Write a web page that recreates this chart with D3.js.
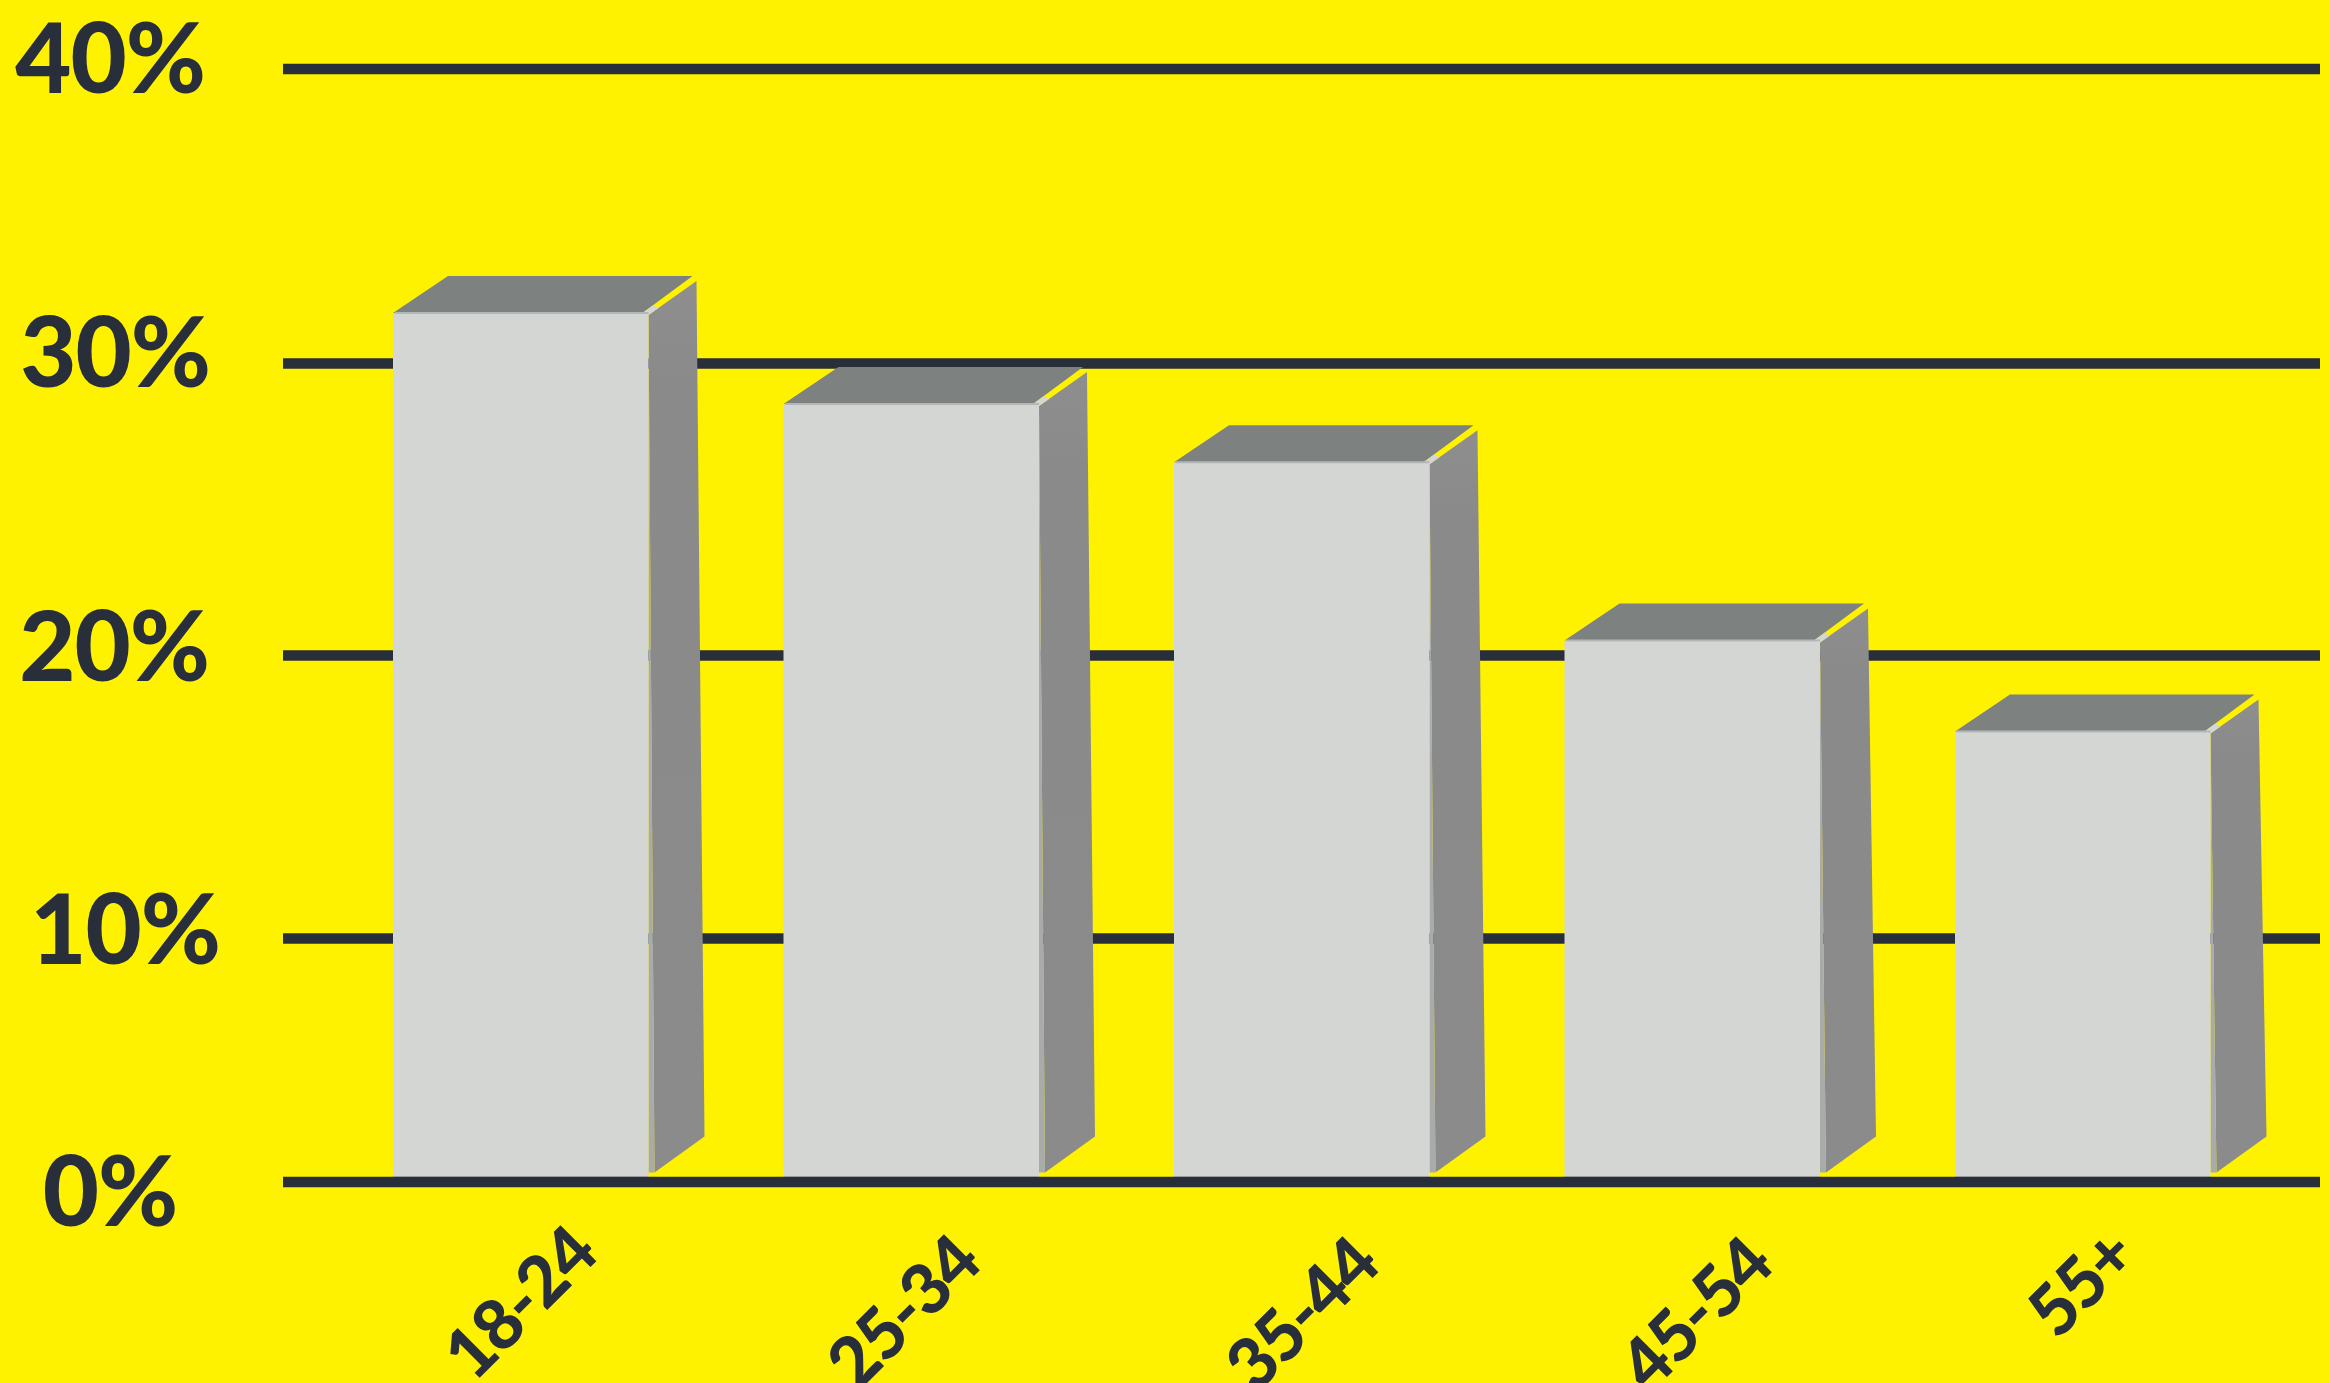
<!DOCTYPE html>
<html>
<head>
<meta charset="utf-8">
<script src="https://cdn.jsdelivr.net/npm/d3@7"></script>
<style>
  html, body { margin: 0; padding: 0; background: #fff200; overflow: hidden; }
  svg { display: block; }
  text { font-family: Lato, "Noto Sans", sans-serif; font-weight: 900; fill: #282e3a; }
</style>
</head>
<body>
<svg id="chart" width="2330" height="1383"></svg>
<script>
// Share of respondents per age group, in percent
const ageGroups = ["18-24", "25-34", "35-44", "45-54", "55+"];
const shares = [31.7, 28.6, 26.6, 20.5, 17.3];
const percentTicks = [0, 10, 20, 30, 40];

// The hand-drawn axis has slightly uneven steps, so the scale is piecewise
const tickPixels = [1181.5, 938, 655, 363, 68.5];

const yLabelCentre = [110, 125, 114, 115, 110];
const yLabelShift = [44, 25, 25, 23, 24];
const xLabelShift = [[-1, 3], [-8, 12], [0, 14], [3, 14], [-2, -17]];

const ink = "#282e3a";
const depth = { x: 55, y: -37 };

const svg = d3.select("#chart");
const defs = svg.append("defs");
const sideFill = defs.append("linearGradient")
  .attr("id", "side-fill").attr("x1", 0).attr("y1", 0).attr("x2", 0).attr("y2", 1);
sideFill.append("stop").attr("offset", 0).attr("stop-color", "#8e8e8e");
sideFill.append("stop").attr("offset", 0.12).attr("stop-color", "#8a8a8a");
sideFill.append("stop").attr("offset", 1).attr("stop-color", "#8b8b8b");

const x = d3.scaleBand().domain(ageGroups).range([393, 2210.5]).paddingInner(0.3457).paddingOuter(0);
const y = d3.scaleLinear().domain(percentTicks).range(tickPixels);

// Gridlines and percent labels
const yAxis = svg.append("g")
  .attr("transform", "translate(283,0)")
  .call(d3.axisRight(y).tickValues(percentTicks).tickSize(2037).tickFormat(d => d + "%"));
yAxis.select(".domain").remove();
yAxis.selectAll(".tick line").attr("stroke", ink).attr("stroke-width", 10.5);
yAxis.selectAll(".tick text")
  .attr("x", (d, i) => yLabelCentre[i] - 283)
  .attr("y", (d, i) => yLabelShift[i])
  .attr("dy", 0)
  .attr("text-anchor", "middle")
  .style("font-size", "97px")
  .style("letter-spacing", "-1px");

// Bars stand on the upper edge of the zero line
const base = y(0) - 5;
const bars = svg.append("g").selectAll("g").data(ageGroups).join("g");
const poly = pts => pts.map(p => p.join(",")).join(" ");

// Top face
bars.append("polygon")
  .attr("fill", "#7d8180")
  .attr("points", (d, i) => {
    const l = x(d), r = l + x.bandwidth(), t = y(shares[i]);
    return poly([[l, t], [l + depth.x, t + depth.y], [r + depth.x - 11, t + depth.y], [r - 6, t]]);
  });

// Right face, leaning slightly outwards towards the floor
bars.append("polygon")
  .attr("fill", "url(#side-fill)")
  .attr("points", (d, i) => {
    const r = x(d) + x.bandwidth(), t = y(shares[i]);
    return poly([[r, t + 2], [r + 48, t - 32], [r + 56, base - 40], [r + 6, base - 4]]);
  });

// Narrow lighter sliver where the front meets the right face
bars.append("polygon")
  .attr("fill", "#a9abab")
  .attr("points", (d, i) => {
    const r = x(d) + x.bandwidth(), t = y(shares[i]);
    return poly([[r, t + 2], [r + 6, base - 4], [r, base - 4]]);
  });

// Pale bevel at the top right corner
bars.append("polygon")
  .attr("fill", "#d4d6d4")
  .attr("points", (d, i) => {
    const r = x(d) + x.bandwidth(), t = y(shares[i]);
    return poly([[r - 6, t], [r + 5, t - 8], [r + 10, t - 5], [r, t + 2]]);
  });

// Front face
bars.append("rect")
  .attr("x", d => x(d))
  .attr("y", (d, i) => y(shares[i]))
  .attr("width", x.bandwidth())
  .attr("height", (d, i) => base - y(shares[i]))
  .attr("rx", 2)
  .attr("fill", "#d4d6d4");

// Thin grey edges along the top and foot of the front face
bars.append("line")
  .attr("x1", d => x(d) + 2)
  .attr("x2", d => x(d) + x.bandwidth())
  .attr("y1", (d, i) => y(shares[i]))
  .attr("y2", (d, i) => y(shares[i]))
  .attr("stroke", "#b4b7b7").attr("stroke-width", 2);
bars.append("line")
  .attr("x1", d => x(d))
  .attr("x2", d => x(d) + x.bandwidth())
  .attr("y1", base)
  .attr("y2", base)
  .attr("stroke", "#9a9da0").attr("stroke-width", 1);

// Age group labels, turned 45 degrees
const xAxis = svg.append("g")
  .attr("transform", "translate(0,1300)")
  .call(d3.axisBottom(x).tickSize(0));
xAxis.select(".domain").remove();
xAxis.selectAll(".tick text")
  .attr("x", 0).attr("y", 0).attr("dy", "0.35em")
  .attr("text-anchor", "middle")
  .style("font-size", "70px")
  .style("letter-spacing", "-2px")
  .attr("transform", (d, i) => `translate(${xLabelShift[i][0]},${xLabelShift[i][1]}) rotate(-45)`);
</script>
</body>
</html>
